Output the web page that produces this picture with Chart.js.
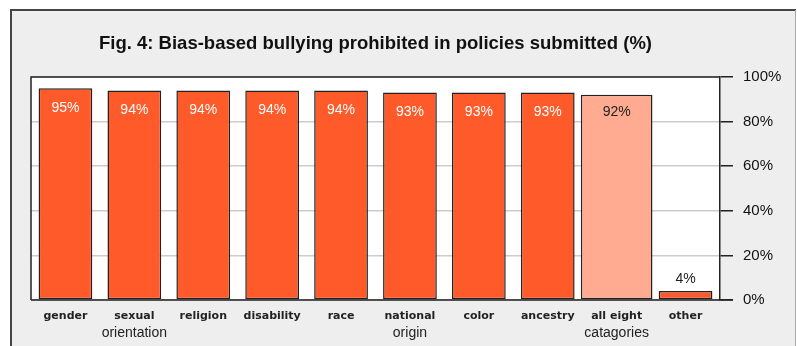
<!DOCTYPE html>
<html lang="en">
<head>
  <meta charset="UTF-8">
  <title>Bias-based bullying prohibited in policies submitted</title>
  <script src="https://cdn.jsdelivr.net/npm/chart.js"></script>
  <style>
    html, body {
      margin: 0;
      padding: 0;
      background: #ffffff;
    }
    .chart-container {
      position: relative;
      width: 797px;
      height: 346px;
    }
  </style>
</head>
<body>
  <div class="chart-container">
    <canvas id="bullyingChart"></canvas>
  </div>

  <script>
    const chartTitle = 'Fig. 4: Bias-based bullying prohibited in policies submitted (%)';
    // two-line category labels: first line bold, second line plain
    const categories = [
      ['gender'], ['sexual', 'orientation'], ['religion'], ['disability'], ['race'],
      ['national', 'origin'], ['color'], ['ancestry'], ['all eight', 'catagories'], ['other']
    ];
    const percentProhibited = [95, 94, 94, 94, 94, 93, 93, 93, null, 4];
    const allEightValues = [null, null, null, null, null, null, null, null, 92, null];
    const yTicks = [0, 20, 40, 60, 80, 100];

    const ORANGE = '#ff5a2a';
    const SALMON = '#ffab91';
    const EDGE = '#222222';

    // grey panel with frame, white plot area, black top/left borders, title
    const framePlugin = {
      id: 'frame',
      beforeDraw(chart) {
        const ctx = chart.ctx;
        const a = chart.chartArea;
        ctx.save();
        ctx.fillStyle = '#ffffff';
        ctx.fillRect(0, 0, chart.width, chart.height);
        ctx.fillStyle = '#eeeeee';
        ctx.fillRect(10, 9, chart.width - 11, chart.height);
        ctx.strokeStyle = '#444444';
        ctx.lineWidth = 2;
        ctx.beginPath();
        ctx.moveTo(11, chart.height + 2);
        ctx.lineTo(11, 10);
        ctx.lineTo(chart.width - 1, 10);
        ctx.stroke();
        ctx.strokeStyle = '#aaaaaa';
        ctx.lineWidth = 1;
        ctx.beginPath();
        ctx.moveTo(chart.width - 1.5, 10);
        ctx.lineTo(chart.width - 1.5, chart.height);
        ctx.stroke();
        ctx.fillStyle = '#ffffff';
        ctx.fillRect(a.left, a.top, a.right - a.left, a.bottom - a.top);

        ctx.fillStyle = '#111111';
        ctx.font = 'bold 18.5px "Liberation Sans", Arial, sans-serif';
        ctx.textAlign = 'center';
        ctx.textBaseline = 'middle';
        ctx.fillText(chartTitle, (a.left + a.right) / 2, 44);
        ctx.restore();
      },
      afterDraw(chart) {
        const ctx = chart.ctx;
        const a = chart.chartArea;
        ctx.save();
        ctx.strokeStyle = EDGE;
        ctx.lineWidth = 1.5;
        ctx.beginPath();
        ctx.moveTo(a.left, a.bottom);
        ctx.lineTo(a.left, a.top);
        ctx.lineTo(a.right, a.top);
        ctx.moveTo(a.left, a.bottom);
        ctx.lineTo(a.right + 13, a.bottom);
        ctx.stroke();

        // category labels under each bar
        const xScale = chart.scales.x;
        ctx.fillStyle = '#222222';
        ctx.textAlign = 'center';
        ctx.textBaseline = 'middle';
        categories.forEach((lines, i) => {
          const x = xScale.getPixelForValue(i);
          ctx.font = 'bold 11px "DejaVu Sans"';
          ctx.fillText(lines[0], x, a.bottom + 16);
          if (lines[1]) {
            ctx.font = '14px "Liberation Sans", Arial, sans-serif';
            ctx.fillText(lines[1], x, a.bottom + 33);
          }
        });
        ctx.restore();
      }
    };

    // percentage labels: inside the tall bars, above the short one
    const valueLabels = {
      id: 'valueLabels',
      afterDatasetsDraw(chart) {
        const ctx = chart.ctx;
        const yScale = chart.scales.y;
        ctx.save();
        ctx.font = '14px "Liberation Sans", Arial, sans-serif';
        ctx.textAlign = 'center';
        ctx.textBaseline = 'middle';
        chart.data.datasets.forEach((ds, di) => {
          const meta = chart.getDatasetMeta(di);
          meta.data.forEach((bar, i) => {
            const v = ds.data[i];
            if (v === null) return;
            const top = yScale.getPixelForValue(v);
            if (v < 20) {
              ctx.fillStyle = '#222222';
              ctx.fillText(v + '%', bar.x, top - 12);
            } else {
              ctx.fillStyle = ds.labelColor;
              ctx.fillText(v + '%', bar.x, top + (di === 0 ? 20 : 17));
            }
          });
        });
        ctx.restore();
      }
    };

    const ctx = document.getElementById('bullyingChart').getContext('2d');
    new Chart(ctx, {
      type: 'bar',
      data: {
        labels: categories,
        datasets: [{
          data: percentProhibited,
          backgroundColor: ORANGE,
          borderColor: EDGE,
          borderWidth: 1.5,
          borderSkipped: false,
          barPercentage: 0.78,
          categoryPercentage: 1,
          grouped: false,
          labelColor: '#ffffff'
        }, {
          data: allEightValues,
          backgroundColor: SALMON,
          borderColor: EDGE,
          borderWidth: 1.5,
          borderSkipped: false,
          barPercentage: 1.04,
          categoryPercentage: 1,
          grouped: false,
          labelColor: '#222222'
        }]
      },
      options: {
        responsive: true,
        maintainAspectRatio: false,
        animation: false,
        layout: {
          padding: { left: 31, right: 0, top: 77, bottom: 0 }
        },
        plugins: {
          legend: { display: false },
          tooltip: { enabled: false },
          title: { display: false }
        },
        scales: {
          x: {
            grid: { display: false },
            border: { display: false },
            ticks: { display: false },
            afterFit(scale) { scale.height = 46; }
          },
          y: {
            position: 'right',
            min: 0,
            max: 100,
            afterBuildTicks(scale) {
              scale.ticks = yTicks.map(v => ({ value: v }));
            },
            afterFit(scale) { scale.width = 77; },
            grid: {
              color: '#cccccc',
              lineWidth: 1.5,
              tickColor: EDGE,
              tickLength: 13
            },
            border: { display: true, color: EDGE, width: 1.5 },
            ticks: {
              padding: 10,
              color: '#111111',
              font: { family: '"Liberation Sans", Arial, sans-serif', size: 15 },
              callback: v => v + '%'
            }
          }
        }
      },
      plugins: [framePlugin, valueLabels]
    });
  </script>
</body>
</html>
